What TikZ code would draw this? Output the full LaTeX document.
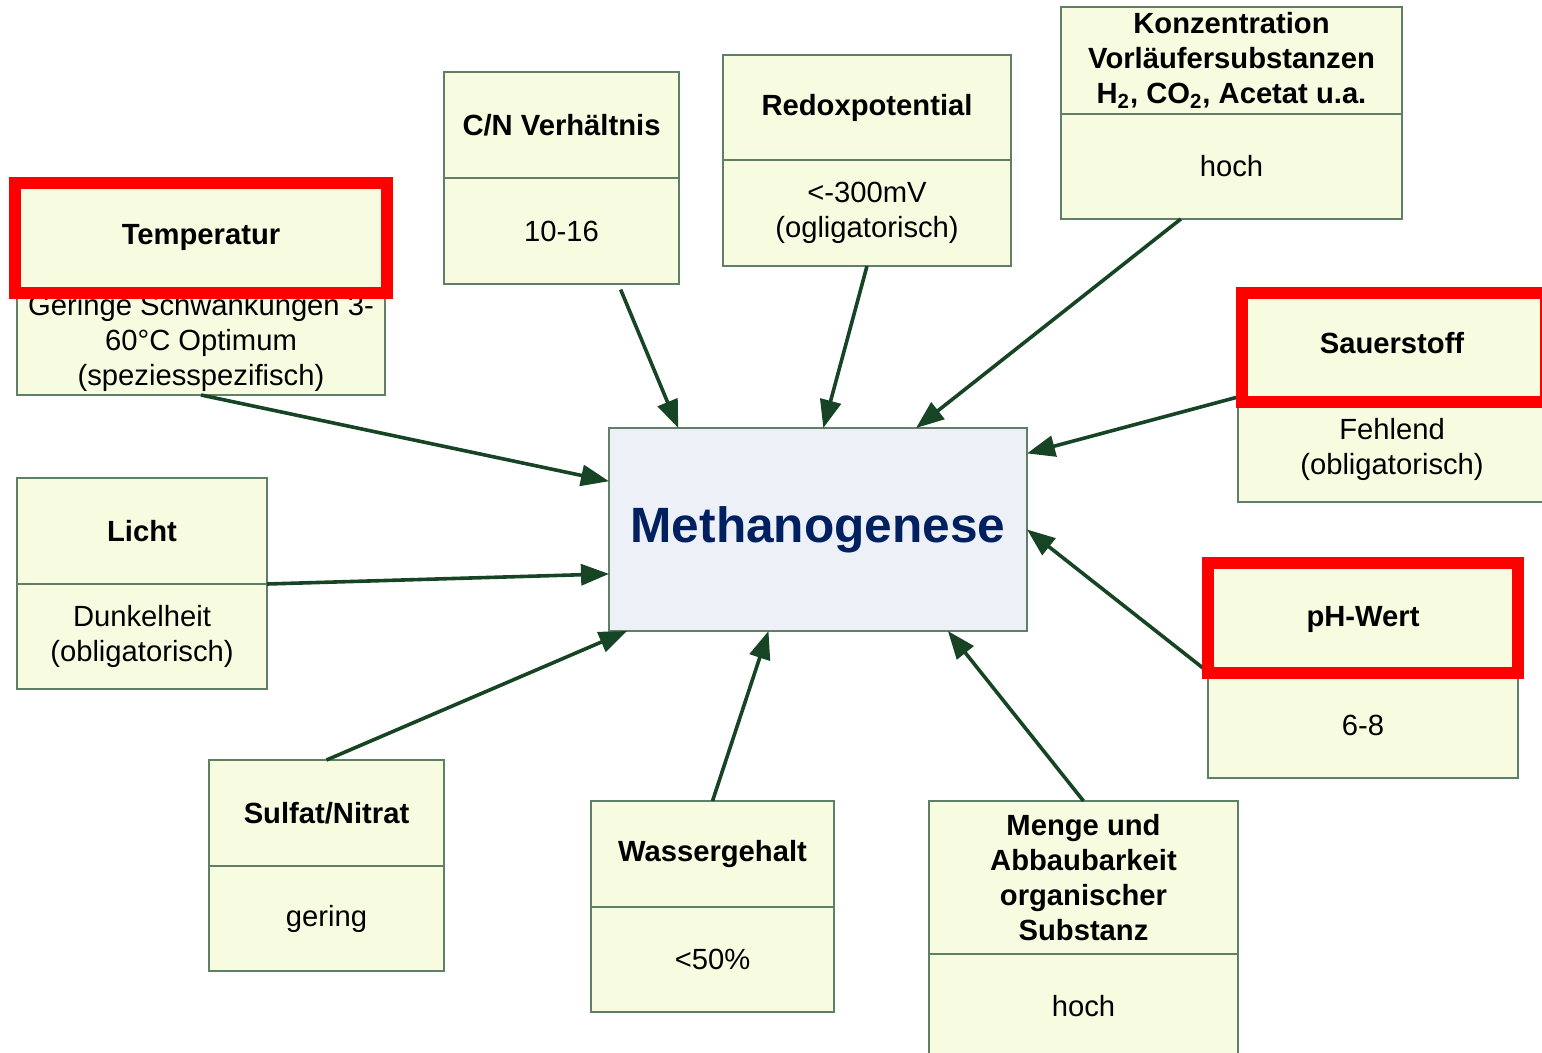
\documentclass[tikz,border=0pt]{standalone}
\usepackage{fontspec}
\setmainfont{Liberation Sans}
\usetikzlibrary{arrows.meta}

\definecolor{kastenfill}{HTML}{F7FCE0}
\definecolor{kastenrand}{HTML}{5F7F67}
\definecolor{pfeilgruen}{HTML}{174424}
\definecolor{methfill}{HTML}{EDF0F6}
\definecolor{methtext}{HTML}{002060}

\begin{document}
\begin{tikzpicture}[x=0.5pt,y=-0.5pt,
    kopf/.style={draw=kastenrand,fill=kastenfill,line width=0.6pt,inner sep=0pt,outer sep=0pt,
        align=center,font=\fontsize{14.6}{17.5}\selectfont\bfseries},
    wert/.style={draw=kastenrand,fill=kastenfill,line width=0.6pt,inner sep=0pt,outer sep=0pt,
        align=center,font=\fontsize{14.6}{17.5}\selectfont,anchor=north},
    pfeil/.style={draw=pfeilgruen,line width=1.8pt,-{Triangle[length=14pt,width=10.5pt]}},
    rahmen/.style={draw=red,line width=6pt}]
    \useasboundingbox (0,0) rectangle (1542,1053);

    % Faktoren
    \node[kopf,minimum width=184pt,minimum height=53pt] (temph) at (201,237) {Temperatur};
    \node[wert,minimum width=184pt,minimum height=52.5pt] (tempw) at (temph.south) {Geringe Schwankungen 3-\\60°C Optimum\\(speziesspezifisch)};

    \node[kopf,minimum width=117.5pt,minimum height=53pt] (cnh) at (561.5,125) {C/N Verhältnis};
    \node[wert,minimum width=117.5pt,minimum height=53pt] (cnw) at (cnh.south) {10-16};

    \node[kopf,minimum width=144pt,minimum height=52.5pt] (redoxh) at (867,107.5) {Redoxpotential};
    \node[wert,minimum width=144pt,minimum height=53pt] (redoxw) at (redoxh.south) {<-300mV\\(ogligatorisch)};

    \node[kopf,minimum width=170.5pt,minimum height=53.5pt] (konzh) at (1231.5,60.5) {Konzentration\\Vorläufersubstanzen\\H\textsubscript{2}, CO\textsubscript{2}, Acetat u.a.};
    \node[wert,minimum width=170.5pt,minimum height=52.5pt] (konzw) at (konzh.south) {hoch};

    \node[kopf,minimum width=154pt,minimum height=53.5pt] (sauh) at (1392,343.5) {Sauerstoff};
    \node[wert,minimum width=154pt,minimum height=52.5pt] (sauw) at (sauh.south) {Fehlend\\(obligatorisch)};

    \node[kopf,minimum width=155pt,minimum height=53pt] (phh) at (1363,619) {pH-Wert};
    \node[wert,minimum width=155pt,minimum height=53pt] (phw) at (phh.south) {6-8};

    \node[kopf,minimum width=125pt,minimum height=53pt] (lichth) at (142,531) {Licht};
    \node[wert,minimum width=125pt,minimum height=52.5pt] (lichtw) at (lichth.south) {Dunkelheit\\(obligatorisch)};

    \node[kopf,minimum width=117.5pt,minimum height=53pt] (sulfath) at (326.5,813) {Sulfat/Nitrat};
    \node[wert,minimum width=117.5pt,minimum height=52.5pt] (sulfatw) at (sulfath.south) {gering};

    \node[kopf,minimum width=121.5pt,minimum height=53pt] (wasserh) at (712.5,854) {Wassergehalt};
    \node[wert,minimum width=121.5pt,minimum height=52.5pt] (wasserw) at (wasserh.south) {<50\%};

    \node[kopf,minimum width=154.5pt,minimum height=76.5pt] (mengeh) at (1083.5,877.5) {Menge und\\Abbaubarkeit\\organischer\\Substanz};
    \node[wert,minimum width=154.5pt,minimum height=52.5pt] (mengew) at (mengeh.south) {hoch};

    % Mitte
    \node[draw=kastenrand,fill=methfill,line width=0.6pt,inner sep=0pt,outer sep=0pt,
        minimum width=209pt,minimum height=101.5pt,text=methtext,
        font=\fontsize{24.8}{30}\selectfont\bfseries] (meth) at (818,529.5) {Methanogenese};

    % Pfeile
    \draw[pfeil] (tempw.south) -- (meth.167.4);
    \draw[pfeil,shorten <=3pt] (cnw.-43) -- (meth.144);
    \draw[pfeil] (redoxw.south) -- (meth.87.8);
    \draw[pfeil] (konzw.-134) -- (meth.46);
    \draw[pfeil] (sauh.south west) -- (meth.20.1);
    \draw[pfeil] (phh.south west) -- (meth.-0.7);
    \draw[pfeil] (mengeh.north) -- (meth.-38.7);
    \draw[pfeil] (wasserh.north) -- (meth.-116.7);
    \draw[pfeil] (sulfath.north) -- (meth.-152.5);
    \draw[pfeil] (lichth.south east) -- (meth.-168.7);

    % Markierungen
    \draw[rahmen] ([shift={(-1.2pt,-1.5pt)}]temph.south west) rectangle ([shift={(1pt,0.5pt)}]temph.north east);
    \draw[rahmen] ([shift={(2pt,-2.5pt)}]sauh.south west) rectangle ([yshift=-1.5pt]sauh.north east);
    \draw[rahmen] ([yshift=-0.3pt]phh.south west) rectangle ([yshift=1.5pt]phh.north east);
\end{tikzpicture}
\end{document}
